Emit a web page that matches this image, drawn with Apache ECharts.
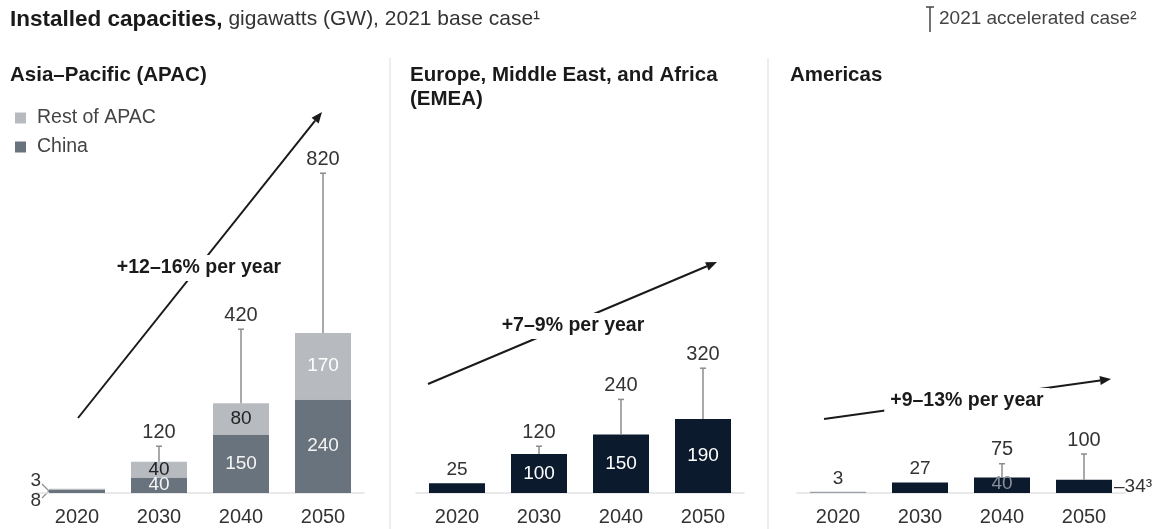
<!DOCTYPE html>
<html>
<head>
<meta charset="utf-8">
<script src="https://cdn.jsdelivr.net/npm/echarts@6/dist/echarts.min.js"></script>
<style>
  html, body { margin: 0; padding: 0; background: #fff; }
  #chart { width: 1152px; height: 529px; }
</style>
</head>
<body>
<div id="chart"></div>
<script>
// ---- data ----
const years = ['2020', '2030', '2040', '2050'];
const apacChina = [8, 40, 150, 240];
const apacRest = [3, 40, 80, 170];
const apacAccel = [null, 120, 420, 820];
const emeaBase = [25, 100, 150, 190];
const emeaAccel = [null, 120, 240, 320];
const amerBase = [3, 27, 40, 34];
const amerAccel = [null, null, 75, 100];
const panelTitles = ['Asia–Pacific (APAC)', 'Europe, Middle East, and Africa\n(EMEA)', 'Americas'];
const trendLabels = ['+12–16% per year', '+7–9% per year', '+9–13% per year'];

const FONT = '"Liberation Sans", Arial, sans-serif';
const NAVY = '#0c1a2e';
const CHINA = '#69737d';
const REST = '#b7bbc0';
const WHISK = '#8c8c8c';

const chart = echarts.init(document.getElementById('chart'));

// grids side by side, same y scale
const gridLefts = [36, 416, 797];
const grids = gridLefts.map(l => ({ left: l, width: 328, top: 142, bottom: 36 }));
const xAxes = gridLefts.map((_, i) => ({
  type: 'category', gridIndex: i, data: years,
  axisLine: { lineStyle: { color: '#e2e2e2', width: 1.5 } },
  axisTick: { show: false },
  axisLabel: { fontSize: 20, color: '#333', margin: 14, fontFamily: FONT }
}));
const yAxes = gridLefts.map((_, i) => ({
  type: 'value', gridIndex: i, min: 0, max: 900, show: false, splitLine: { show: false }
}));

const baseLabel = { show: true, fontSize: 19, fontFamily: FONT };

function whiskers(idx, base, accel) {
  const data = [];
  accel.forEach((a, i) => { if (a != null) data.push([i, base[i], a]); });
  return {
    type: 'custom', xAxisIndex: idx, yAxisIndex: idx, z: 5, silent: true,
    data: data,
    renderItem: function (params, api) {
      const p0 = api.coord([api.value(0), api.value(1)]);
      const p1 = api.coord([api.value(0), api.value(2)]);
      return {
        type: 'group', children: [
          { type: 'line', shape: { x1: p0[0], y1: p0[1], x2: p1[0], y2: p1[1] }, style: { stroke: WHISK, lineWidth: 1.5 } },
          { type: 'line', shape: { x1: p1[0] - 3, y1: p1[1], x2: p1[0] + 3, y2: p1[1] }, style: { stroke: WHISK, lineWidth: 1.5 } },
          { type: 'text', x: p1[0], y: p1[1] - 4, style: { text: String(api.value(2)), align: 'center', verticalAlign: 'bottom', font: '20px ' + FONT, fill: '#333' } }
        ]
      };
    }
  };
}

const apacTotal = apacChina.map((v, i) => v + apacRest[i]);

const series = [
  {
    name: 'China', type: 'bar', stack: 'apac', xAxisIndex: 0, yAxisIndex: 0, barWidth: 56,
    itemStyle: { color: CHINA },
    label: Object.assign({}, baseLabel, { position: 'inside', color: '#f4f4f4' }),
    data: apacChina.map((v, i) => i === 0
      ? { value: v, label: { position: 'left', offset: [0, 9], color: '#333', distance: 8 } }
      : v)
  },
  {
    name: 'Rest of APAC', type: 'bar', stack: 'apac', xAxisIndex: 0, yAxisIndex: 0, barWidth: 56,
    itemStyle: { color: REST },
    label: Object.assign({}, baseLabel, { position: 'inside', color: '#222' }),
    data: apacRest.map((v, i) => {
      if (i === 0) return { value: v, label: { position: 'left', offset: [0, -9], color: '#333', distance: 8 } };
      if (i === 3) return { value: v, label: { color: '#fff' } };
      return v;
    })
  },
  whiskers(0, apacTotal, apacAccel),
  {
    name: 'EMEA', type: 'bar', xAxisIndex: 1, yAxisIndex: 1, barWidth: 56,
    itemStyle: { color: NAVY },
    label: Object.assign({}, baseLabel, { position: 'inside', color: '#fff' }),
    data: emeaBase.map((v, i) => i === 0 ? { value: v, label: { position: 'top', color: '#333', distance: 4 } } : v)
  },
  whiskers(1, emeaBase, emeaAccel),
  {
    name: 'Americas', type: 'bar', xAxisIndex: 2, yAxisIndex: 2, barWidth: 56,
    itemStyle: { color: NAVY },
    label: Object.assign({}, baseLabel, { position: 'top', color: '#333', distance: 4 }),
    data: amerBase.map((v, i) => {
      if (i === 0) return { value: v, itemStyle: { color: '#9aa0a6' } };
      if (i === 2) return { value: v, label: { position: 'insideBottom', color: '#8a8f96', distance: 0 } };
      if (i === 3) return { value: v, label: { position: 'right', distance: 2, formatter: '–{c}³', color: '#333' } };
      return v;
    })
  },
  whiskers(2, amerBase, amerAccel)
];

// ---- annotations ----
function arrow(x1, y1, x2, y2) {
  const a = Math.atan2(y2 - y1, x2 - x1);
  const L = 11, W = 4.5;
  const bx = x2 - L * Math.cos(a), by = y2 - L * Math.sin(a);
  return [
    { type: 'line', shape: { x1: x1, y1: y1, x2: bx, y2: by }, style: { stroke: '#1a1a1a', lineWidth: 2 }, z: 10 },
    { type: 'polygon', shape: { points: [[x2, y2], [bx + W * Math.sin(a), by - W * Math.cos(a)], [bx - W * Math.sin(a), by + W * Math.cos(a)]] }, style: { fill: '#1a1a1a' }, z: 10 }
  ];
}
function trendText(txt, x, y) {
  return {
    type: 'text', x: x, y: y, z: 11,
    style: { text: txt, align: 'center', verticalAlign: 'middle', font: 'bold 19.5px ' + FONT, fill: '#1a1a1a', backgroundColor: '#fff', padding: [3, 6] }
  };
}

const graphic = [
  {
    type: 'text', left: 10, top: 8,
    style: {
      text: '{b|Installed capacities,}{n| gigawatts (GW), 2021 base case¹}',
      rich: {
        b: { font: 'bold 22.5px ' + FONT, fill: '#1a1a1a' },
        n: { font: '21px ' + FONT, fill: '#333' }
      }
    }
  },
  { type: 'line', shape: { x1: 930, y1: 7, x2: 930, y2: 32 }, style: { stroke: '#444', lineWidth: 1.5 } },
  { type: 'line', shape: { x1: 926, y1: 7, x2: 934, y2: 7 }, style: { stroke: '#444', lineWidth: 1.5 } },
  { type: 'text', x: 939, y: 19, style: { text: '2021 accelerated case²', verticalAlign: 'middle', font: '19px ' + FONT, fill: '#444' } },
  { type: 'text', x: 10, y: 63, style: { text: panelTitles[0], font: 'bold 20.5px ' + FONT, fill: '#1a1a1a', lineHeight: 24 } },
  { type: 'text', x: 410, y: 63, style: { text: panelTitles[1], font: 'bold 20.5px ' + FONT, fill: '#1a1a1a', lineHeight: 24 } },
  { type: 'text', x: 790, y: 63, style: { text: panelTitles[2], font: 'bold 20.5px ' + FONT, fill: '#1a1a1a', lineHeight: 24 } },
  { type: 'line', shape: { x1: 390, y1: 58, x2: 390, y2: 529 }, style: { stroke: '#e8e8e8', lineWidth: 1.5 } },
  { type: 'line', shape: { x1: 768, y1: 58, x2: 768, y2: 529 }, style: { stroke: '#e8e8e8', lineWidth: 1.5 } },
  // bracket for 2020 APAC values
  { type: 'polyline', shape: { points: [[42, 484], [49, 491], [42, 498]] }, style: { stroke: '#8c8c8c', lineWidth: 1.2, fill: null } }
]
  .concat(arrow(78, 418, 322, 112), [trendText(trendLabels[0], 199, 268)])
  .concat(arrow(428, 384, 717, 262), [trendText(trendLabels[1], 573, 326)])
  .concat(arrow(824, 419, 1111, 379), [trendText(trendLabels[2], 967, 401)]);

chart.setOption({
  animation: false,
  textStyle: { fontFamily: FONT },
  grid: grids,
  xAxis: xAxes,
  yAxis: yAxes,
  legend: {
    data: ['Rest of APAC', 'China'], orient: 'vertical', left: 10, top: 103,
    itemWidth: 11, itemHeight: 11, itemGap: 9, icon: 'rect', selectedMode: false,
    textStyle: { fontSize: 19.5, color: '#444', padding: [0, 0, 0, 6] }
  },
  series: series,
  graphic: graphic
});

window.addEventListener('resize', () => chart.resize());
</script>
</body>
</html>
